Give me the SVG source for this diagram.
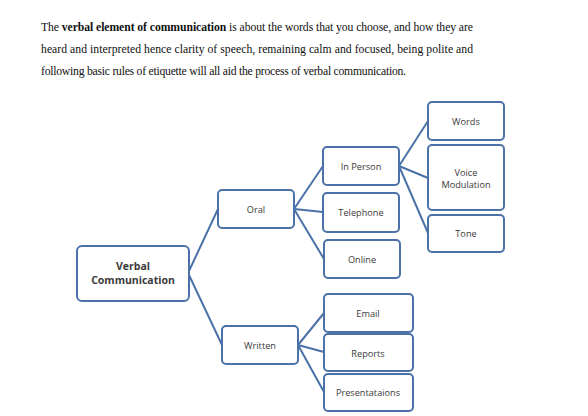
<svg xmlns="http://www.w3.org/2000/svg" width="588" height="416" viewBox="0 0 588 416">
<style>
.para{font-family:"Liberation Serif","Times New Roman",serif;font-size:11.7px;fill:#111}
.b{font-weight:bold}
.box{fill:#fff;stroke:#4A72A8;stroke-width:2}
.lbl{font-family:"Open Sans","Liberation Sans",sans-serif;font-size:9.2px;fill:#3a3a3a;text-anchor:middle;dominant-baseline:central}
.big{font-size:10.5px;font-weight:bold}
.con line{stroke:#4A72A8;stroke-width:2;stroke-linecap:round}
</style>
<rect width="588" height="416" fill="#fff"/>
<g id="paragraph">
<text class="para" x="41" y="31" textLength="432" lengthAdjust="spacing">The <tspan class="b">verbal element of communication</tspan> is about the words that you choose, and how they are</text>
<text class="para" x="41" y="53" textLength="432" lengthAdjust="spacing">heard and interpreted hence clarity of speech, remaining calm and focused, being polite and</text>
<text class="para" x="41" y="75" textLength="365" lengthAdjust="spacing">following basic rules of etiquette will all aid the process of verbal communication.</text>
</g>
<g class="con" id="connectors">
<line x1="189" y1="271" x2="218" y2="209"/>
<line x1="189" y1="275" x2="222" y2="345"/>
<line x1="294" y1="209" x2="323" y2="166"/>
<line x1="294" y1="209" x2="323" y2="212"/>
<line x1="294" y1="209" x2="324" y2="259"/>
<line x1="399" y1="166" x2="428" y2="121"/>
<line x1="399" y1="166" x2="428" y2="178"/>
<line x1="399" y1="166" x2="428" y2="233"/>
<line x1="298" y1="345" x2="324" y2="313"/>
<line x1="298" y1="345" x2="324" y2="352"/>
<line x1="298" y1="345" x2="324" y2="392"/>
</g>
<g id="verbal"><rect class="box" x="77" y="246" width="112" height="55" rx="5"/><text class="lbl big" x="133" y="266">Verbal</text><text class="lbl big" x="133" y="280">Communication</text></g>
<g id="oral"><rect class="box" x="218" y="190" width="76" height="38" rx="4"/><text class="lbl" x="256" y="209">Oral</text></g>
<g id="written"><rect class="box" x="222" y="326" width="76" height="38" rx="4"/><text class="lbl" x="260" y="345">Written</text></g>
<g id="inperson"><rect class="box" x="323" y="147" width="76" height="38" rx="4"/><text class="lbl" x="361" y="166">In Person</text></g>
<g id="telephone"><rect class="box" x="323" y="193" width="76" height="39" rx="4"/><text class="lbl" x="361" y="212">Telephone</text></g>
<g id="online"><rect class="box" x="324" y="240" width="76" height="38" rx="4"/><text class="lbl" x="362" y="259">Online</text></g>
<g id="words"><rect class="box" x="428" y="102" width="76" height="38" rx="4"/><text class="lbl" x="466" y="121">Words</text></g>
<g id="voice"><rect class="box" x="428" y="145" width="76" height="65" rx="4"/><text class="lbl" x="466" y="172">Voice</text><text class="lbl" x="466" y="184">Modulation</text></g>
<g id="tone"><rect class="box" x="428" y="215" width="76" height="37" rx="4"/><text class="lbl" x="466" y="233">Tone</text></g>
<g id="email"><rect class="box" x="324" y="294" width="89" height="38" rx="4"/><text class="lbl" x="368" y="313">Email</text></g>
<g id="reports"><rect class="box" x="324" y="334" width="89" height="37" rx="4"/><text class="lbl" x="368" y="353">Reports</text></g>
<g id="presentations"><rect class="box" x="324" y="374" width="89" height="37" rx="4"/><text class="lbl" x="368" y="392">Presentataions</text></g>
</svg>
